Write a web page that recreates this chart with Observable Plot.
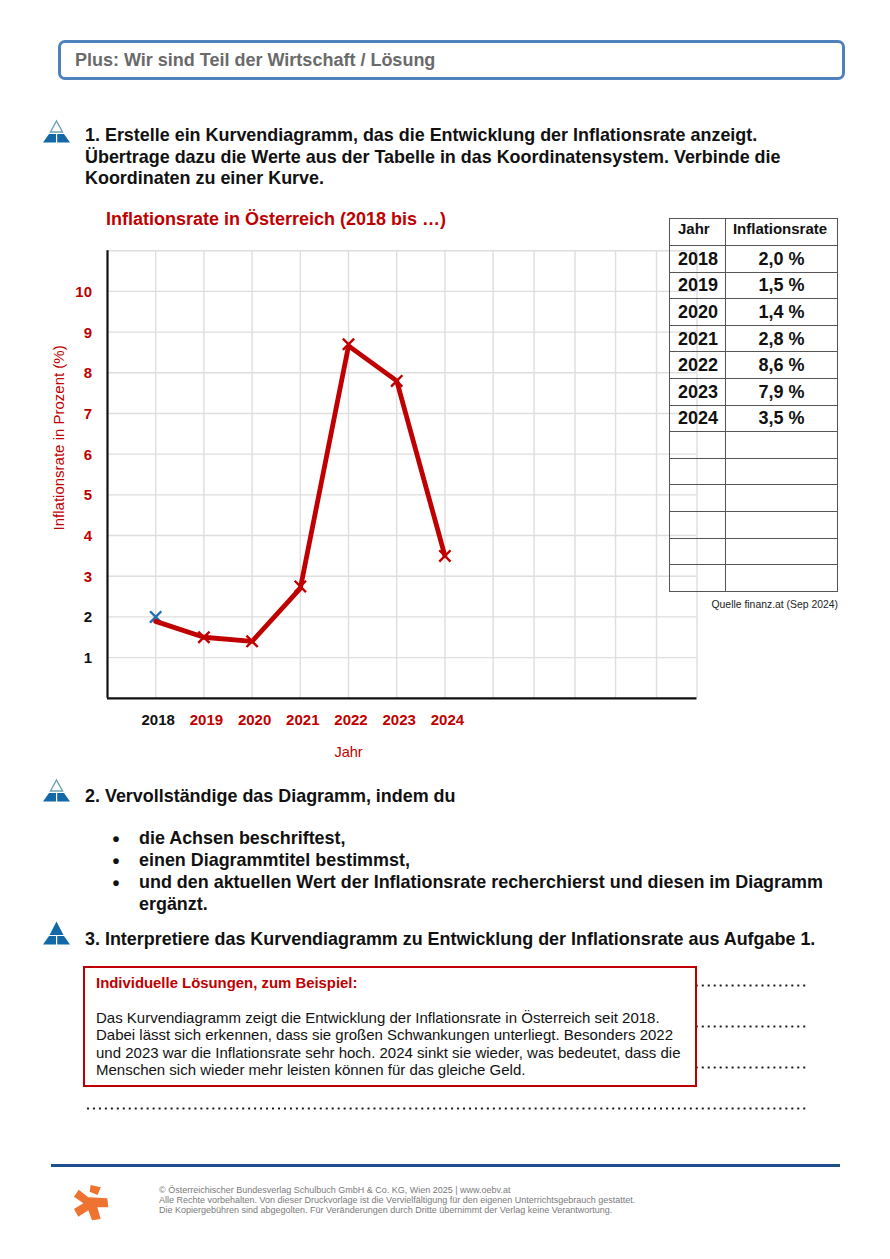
<!DOCTYPE html>
<html lang="de">
<head>
<meta charset="utf-8">
<script src="https://cdn.jsdelivr.net/npm/d3@7"></script>
<script src="https://cdn.jsdelivr.net/npm/@observablehq/plot@0.6"></script>
<style>
  html, body { margin: 0; padding: 0; background: #fff; }
  body { width: 890px; height: 1259px; position: relative; overflow: hidden; font-family: "Liberation Sans", Arial, sans-serif; }
  .t { position: absolute; white-space: nowrap; line-height: 1; }
  .q { font-weight: bold; font-size: 17.93px; color: #111; left: 85px; }
  #chart { position: absolute; left: 0; top: 0; }
  #head { position: absolute; left: 58px; top: 40px; width: 781px; height: 34px; border: 3px solid #4f81bd; border-radius: 7px; }
  table { position: absolute; left: 669px; top: 218px; width: 169px; border-collapse: collapse; table-layout: fixed; color: #111; }
  tr { height: 26.62px; }
  tr:first-child { height: 27px; }
  td, th { border: 1.2px solid #555; padding: 0; box-sizing: border-box; font-weight: bold; }
  th { font-size: 15px; vertical-align: top; padding-top: 1px; padding-right: 3px; }
  th:first-child { text-align: left; padding-left: 8px; padding-right: 0; }
  td { font-size: 18px; text-align: center; padding-top: 1px; }
  td.y { text-align: left; padding-left: 8px; }
  #answer { position: absolute; left: 83px; top: 966px; width: 610px; height: 117px; border: 2px solid #c00000; background: #fff; }
  .dots { position: absolute; left: 85px; width: 722px; height: 3px;
          background-image: radial-gradient(circle at center, #111 0.95px, transparent 1.25px);
          background-size: 5.98px 3px; }
  svg.ic { position: absolute; }
</style>
</head>
<body>
<script>
// ---- data ----
const years = [2018, 2019, 2020, 2021, 2022, 2023, 2024];
const lineValues = [1.89, 1.5, 1.4, 2.7, 8.66, 7.8, 3.5];
const markerValues = [2.0, 1.5, 1.4, 2.75, 8.7, 7.8, 3.5];
const tableRates = ["2,0 %", "1,5 %", "1,4 %", "2,8 %", "8,6 %", "7,9 %", "3,5 %"];
const blueYears = [2018];
const blackYearTicks = [2018];
const redYearTicks = [2019, 2020, 2021, 2022, 2023, 2024];
const redValueTicks = [3, 4, 5, 6, 7, 8, 9, 10];
const blackValueTicks = [1, 2];
const gridValues = [1, 2, 3, 4, 5, 6, 7, 8, 9, 10, 11];
const gridYears = [2018, 2019, 2020, 2021, 2022, 2023, 2024, 2025, 2025.85, 2026.7, 2027.54, 2028.39, 2029.23];
const emptyRows = 6;

const RED = "#c00000", BLUE = "#1f6fb2", GRID = "#dedede", INK = "#111";
const tick = {tickSize: 0, fontWeight: "bold", label: null, tickFormat: d => String(d)};

const points = years.map((year, i) => ({year, line: lineValues[i], mark: markerValues[i]}));

const chart = Plot.plot({
  width: 890, height: 760,
  marginLeft: 107, marginRight: 193.5, marginTop: 250.2, marginBottom: 62.2,
  style: {fontFamily: "Liberation Sans, Arial, sans-serif", fontSize: "15px", background: "transparent", overflow: "visible"},
  x: {domain: [2017, 2029.23]},
  y: {domain: [0, 11]},
  marks: [
    Plot.gridX(gridYears, {stroke: GRID, strokeOpacity: 1, strokeWidth: 1.4}),
    Plot.gridY(gridValues, {stroke: GRID, strokeOpacity: 1, strokeWidth: 1.4}),
    Plot.axisY({...tick, ticks: redValueTicks, fill: RED, tickPadding: 15.5, dy: 0.7}),
    Plot.axisY({...tick, ticks: blackValueTicks, fill: INK, tickPadding: 15.5, dy: 0.7}),
    Plot.axisX({...tick, ticks: blackYearTicks, fill: INK, tickPadding: 15.5, dx: 2.5, dy: 1}),
    Plot.axisX({...tick, ticks: redYearTicks, fill: RED, tickPadding: 15.5, dx: 2.5, dy: 1}),
    Plot.ruleX([2017], {stroke: INK, strokeWidth: 2.2}),
    Plot.ruleY([0], {stroke: INK, strokeWidth: 2.2}),
    Plot.text(["Inflationsrate in Prozent (%)"], {y: () => 6.4, frameAnchor: "left", textAnchor: "middle", dx: -48, rotate: -90, fill: RED, fontSize: 15}),
    Plot.text(["Jahr"], {x: () => 2022, frameAnchor: "bottom", dy: 58.5, fill: RED, fontSize: 14.5}),
    Plot.dot(points.filter(d => blueYears.includes(d.year)), {x: "year", y: "mark", symbol: "times", r: 5.2, stroke: BLUE, strokeWidth: 2.4}),
    Plot.dot(points.filter(d => !blueYears.includes(d.year)), {x: "year", y: "mark", symbol: "times", r: 5.2, stroke: RED, strokeWidth: 2.4}),
    Plot.line(points, {x: "year", y: "line", stroke: RED, strokeWidth: 4.8, strokeLinejoin: "miter"})
  ]
});
chart.id = "chart";
document.body.appendChild(chart);

function add(html, cls, style) {
  const e = document.createElement("div");
  e.className = cls; e.style.cssText = style; e.innerHTML = html;
  document.body.appendChild(e); return e;
}
const head = document.createElement("div"); head.id = "head"; document.body.appendChild(head);
add("Plus: Wir sind Teil der Wirtschaft / Lösung", "t", "left:75px;top:51px;font-size:18px;font-weight:bold;color:#6a6a6a");

["1. Erstelle ein Kurvendiagramm, das die Entwicklung der Inflationsrate anzeigt.",
 "Übertrage dazu die Werte aus der Tabelle in das Koordinatensystem. Verbinde die",
 "Koordinaten zu einer Kurve."].forEach((s, i) => add(s, "t q", `top:${127 + i * 21.5}px`));
add("Inflationsrate in Österreich (2018 bis …)", "t", `left:106px;top:210px;font-size:18px;font-weight:bold;color:${RED}`);

// table
const table = document.createElement("table");
table.innerHTML = `<colgroup><col style="width:56px"><col></colgroup><tr><th>Jahr</th><th>Inflationsrate</th></tr>` +
  years.map((y, i) => `<tr><td class="y">${y}</td><td>${tableRates[i]}</td></tr>`).join("") +
  d3.range(emptyRows).map(() => `<tr><td></td><td></td></tr>`).join("");
document.body.appendChild(table);
add("Quelle finanz.at (Sep 2024)", "t", "left:711.5px;top:600px;font-size:10.4px;color:#222");

add("2. Vervollständige das Diagramm, indem du", "t q", "top:788px");
[["die Achsen beschriftest,", 830], ["einen Diagrammtitel bestimmst,", 852],
 ["und den aktuellen Wert der Inflationsrate recherchierst und diesen im Diagramm", 874], ["ergänzt.", 895.5]]
 .forEach(([s, top]) => add(s, "t q", `left:139px;top:${top}px`));
[[829], [851], [873]].forEach(([top]) => add("•", "t q", `left:112.5px;top:${top}px;font-size:20px`));
add("3. Interpretiere das Kurvendiagramm zu Entwicklung der Inflationsrate aus Aufgabe 1.", "t q", "top:931px");

[985, 1026, 1067, 1108].forEach(y => add("", "dots", `top:${y - 1.5}px`));
const ans = document.createElement("div"); ans.id = "answer"; document.body.appendChild(ans);
add("Individuelle Lösungen, zum Beispiel:", "t", `left:96px;top:975.5px;font-size:14.9px;font-weight:bold;color:${RED}`);
["Das Kurvendiagramm zeigt die Entwicklung der Inflationsrate in Österreich seit 2018.",
 "Dabei lässt sich erkennen, dass sie großen Schwankungen unterliegt. Besonders 2022",
 "und 2023 war die Inflationsrate sehr hoch. 2024 sinkt sie wieder, was bedeutet, dass die",
 "Menschen sich wieder mehr leisten können für das gleiche Geld."]
 .forEach((s, i) => add(s, "t", `left:96px;top:${1009.5 + i * 17.6}px;font-size:15px;color:#111`));

// pyramid icons
function icon(top, solid) {
  const ns = `<svg class="ic" xmlns="http://www.w3.org/2000/svg" width="30" height="25" viewBox="0 0 30 25" style="left:42px;top:${top}px">` +
    (solid ? `<polygon points="14.5,0.5 21.5,14 7.5,14" fill="#1268a8"/>`
           : `<polygon points="14.5,2 20.5,13 8.5,13" fill="none" stroke="#6f9fb0" stroke-width="1.4"/>`) +
    `<polygon points="7,15 22,15 28,23.5 1,23.5" fill="#1268a8"/><rect x="14" y="15" width="1.2" height="9" fill="#fff"/></svg>`;
  document.body.insertAdjacentHTML("beforeend", ns);
}
icon(118.5, false); icon(777.5, false); icon(921, true);

// footer
add("", "", "position:absolute;left:51px;top:1164px;width:789px;height:3px;background:#1f4e8c");
document.body.insertAdjacentHTML("beforeend",
 `<svg class="ic" xmlns="http://www.w3.org/2000/svg" width="60" height="50" viewBox="0 0 180 150" style="left:60px;top:1175px">
  <polygon fill="#ee7230" points="92,30 122,37 113,60 89,50"/>
  <polygon fill="#ee7230" points="42,65 56,44 85,67 142,70 145,97 112,97 122,132 96,136 85,106 55,125 42,102 70,85"/></svg>`);
["© Österreichischer Bundesverlag Schulbuch GmbH &amp; Co. KG, Wien 2025 | www.oebv.at",
 "Alle Rechte vorbehalten. Von dieser Druckvorlage ist die Vervielfältigung für den eigenen Unterrichtsgebrauch gestattet.",
 "Die Kopiergebühren sind abgegolten. Für Veränderungen durch Dritte übernimmt der Verlag keine Verantwortung."]
 .forEach((s, i) => add(s, "t", `left:159px;top:${1185.5 + i * 10.2}px;font-size:9px;color:#7a7a7a`));
</script>
</body>
</html>
